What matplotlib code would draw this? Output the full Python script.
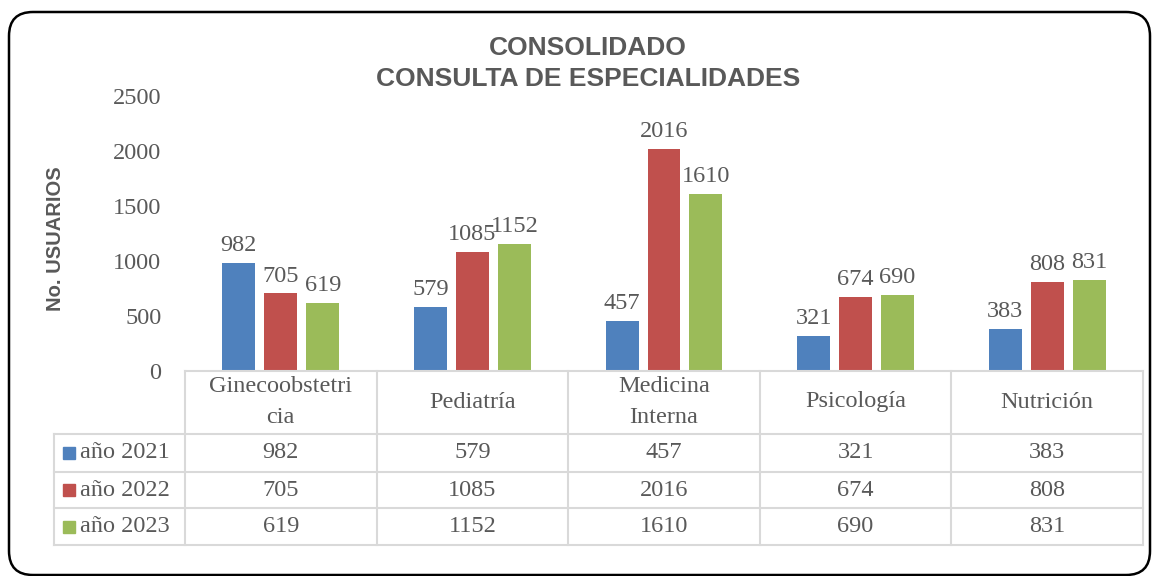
import matplotlib.pyplot as plt
from matplotlib.patches import FancyBboxPatch, Rectangle
from matplotlib.transforms import blended_transform_factory, IdentityTransform

categories = ["Ginecoobstetri\ncia", "Pediatría", "Medicina\nInterna", "Psicología", "Nutrición"]
series_names = ["año 2021", "año 2022", "año 2023"]
vals_2021 = [982, 579, 457, 321, 383]
vals_2022 = [705, 1085, 2016, 674, 808]
vals_2023 = [619, 1152, 1610, 690, 831]
series = [vals_2021, vals_2022, vals_2023]
colors = ["#4F81BD", "#C0504D", "#9BBB59"]
yticks = [0, 500, 1000, 1500, 2000, 2500]

txt = "#595959"
grid = "#D9D9D9"
serif = "Liberation Serif"
fs = 17.5

fig = plt.figure(figsize=(11.56, 5.76), dpi=100)
W, H = 1156, 576

# rounded frame, in pixels
frame = FancyBboxPatch((9, 1), 1141, 563, boxstyle="round,pad=0,rounding_size=24",
                       transform=IdentityTransform(), fill=False, lw=1.8, ec="black")
fig.patches.append(frame)

ax = fig.add_axes([185 / W, 1 - 371 / H, (1143 - 185) / W, 275 / H])
n = len(categories)
x = list(range(n))
offsets = [-0.219, 0, 0.219]
bw = 0.172
for vals, off, col in zip(series, offsets, colors):
    pos = [i + off for i in x]
    ax.bar(pos, vals, width=bw, color=col, zorder=2)
    for p, v in zip(pos, vals):
        ax.annotate(str(v), (p, v), xytext=(0, 5), textcoords="offset points",
                    ha="center", va="bottom", fontsize=fs, color=txt, family=serif)

ax.set_xlim(-0.5, n - 0.5)
ax.set_ylim(0, 2500)
ax.set_yticks(yticks)
ax.set_yticklabels([str(t) for t in yticks], fontsize=fs, color=txt, family=serif)
ax.tick_params(axis="y", length=0, pad=17)
ax.set_xticks([])
for s in ax.spines.values():
    s.set_visible(False)
ax.axhline(0, color=grid, lw=1.5, zorder=3, clip_on=False)

ax.set_ylabel("No. USUARIOS", fontsize=14.5, fontweight="bold", color=txt,
              family="Liberation Sans")
ax.yaxis.set_label_coords(-120 / (1143 - 185), 0.48)

fig.suptitle("CONSOLIDADO\nCONSULTA DE ESPECIALIDADES", x=588 / W, y=1 - 36 / H,
             va="top", fontsize=19, fontweight="bold", color=txt,
             family="Liberation Sans", linespacing=1.35)

# data table below the axis
tr = blended_transform_factory(ax.transData, ax.transAxes)
def ay(py):
    return (371 - py) / 275

colw = (1143 - 185) / n
left = -0.5 - (185 - 54) / colw
rows_px = [434, 472, 508, 545]
for py in rows_px:
    ax.plot([left, n - 0.5], [ay(py)] * 2, color=grid, lw=1.5, transform=tr, clip_on=False)
ax.plot([left, left], [ay(434), ay(545)], color=grid, lw=1.5, transform=tr, clip_on=False)
for i in range(n + 1):
    xv = i - 0.5
    ax.plot([xv, xv], [0, ay(545)], color=grid, lw=1.5, transform=tr, clip_on=False)

for i, c in enumerate(categories):
    ax.text(i, ay(402), c, transform=tr, ha="center", va="center", fontsize=fs,
            color=txt, family=serif, linespacing=1.6)

row_centers = [453, 490, 527]
key_w = 12 / colw
for r, (name, vals, col) in enumerate(zip(series_names, series, colors)):
    yc = ay(row_centers[r])
    for i, v in enumerate(vals):
        ax.text(i, yc, str(v), transform=tr, ha="center", va="center", fontsize=fs,
                color=txt, family=serif)
    kx = left + 9 / colw
    ax.add_patch(Rectangle((kx, yc - 6 / 275), key_w, 12 / 275, transform=tr,
                           color=col, clip_on=False))
    ax.text(kx + key_w + 5 / colw, yc, name, transform=tr,
            ha="left", va="center", fontsize=fs, color=txt, family=serif)

fig.savefig("out.png", dpi=100)
